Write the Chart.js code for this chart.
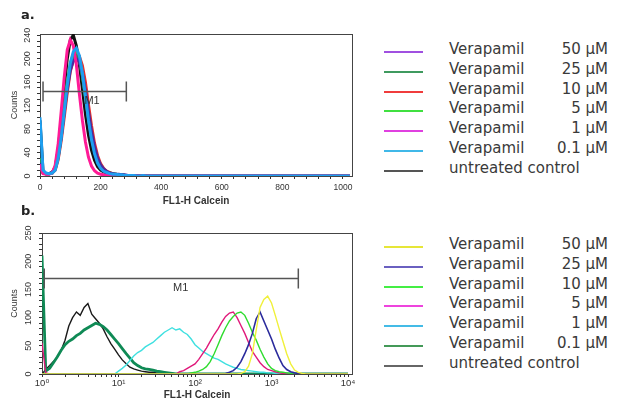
<!DOCTYPE html>
<html>
<head>
<meta charset="utf-8">
<script src="https://cdn.jsdelivr.net/npm/chart.js@4.4.0/dist/chart.umd.min.js"></script>
<style>
  body { margin: 0; background: #fff; font-family: "DejaVu Sans", Verdana, sans-serif; }
  #wrap { position: relative; width: 622px; height: 404px; overflow: hidden; }
  canvas { position: absolute; left: 0; }
  .panel { position: absolute; left: 21px; font: bold 13px "DejaVu Sans", Arial, sans-serif; color: #222; }
  .legend { position: absolute; left: 384px; width: 224px; }
  .row { position: absolute; left: 0; width: 224px; height: 20px; font-size: 15px; line-height: 18px; color: #3a3a3a; }
  .row .ln { position: absolute; left: 0; top: 11px; width: 39px; height: 2px; }
  .row .name { position: absolute; left: 65px; top: 0; }
  .row .conc { position: absolute; right: 0; top: 0; }
</style>
</head>
<body>
<div id="wrap">
  <canvas id="chartA" width="360" height="210" style="top:0"></canvas>
  <canvas id="chartB" width="360" height="204" style="top:200px"></canvas>
  <div class="panel" style="top:7px">a.</div>
  <div class="panel" style="top:203px">b.</div>
  <div class="legend" id="legendA" style="top:40px"></div>
  <div class="legend" id="legendB" style="top:235px"></div>
</div>
<script>
// series labels (same order in both panels)
const names = ["Verapamil", "Verapamil", "Verapamil", "Verapamil", "Verapamil", "Verapamil", "untreated control"];
const concs = ["50 µM", "25 µM", "10 µM", "5 µM", "1 µM", "0.1 µM", ""];

// ---- panel a : linear FL1-H channel ----
const xA = [0, 10, 20, 30, 40, 50, 60, 70, 80, 90, 100, 110, 120, 130, 140, 150, 160, 170, 180, 190,
            200, 210, 220, 230, 240, 250, 260, 270, 280, 290, 300, 310, 320, 330, 340, 350, 1023];
const a50  = [22, 5, 4, 4, 6, 12, 33, 66, 108, 148, 180, 196, 200, 195, 175, 145, 110, 76, 50, 31,
              19, 12, 8, 5, 4, 3, 3, 2, 2, 1, 1, 1, 1, 0, 0, 0, 0];
const a25  = [28, 6, 4, 4, 5, 11, 32, 68, 112, 152, 185, 202, 205, 196, 170, 136, 100, 68, 44, 27,
              17, 11, 7, 5, 4, 3, 2, 2, 1, 1, 1, 0, 0, 0, 0, 0, 0];
const a10  = [25, 6, 4, 4, 5, 10, 28, 60, 100, 142, 178, 198, 205, 204, 188, 160, 122, 86, 56, 35,
              21, 13, 8, 6, 4, 3, 2, 2, 1, 1, 1, 1, 0, 0, 0, 0, 0];
const a5   = [30, 6, 4, 4, 5, 12, 35, 72, 118, 160, 192, 208, 212, 200, 172, 135, 98, 66, 42, 26,
              16, 10, 7, 5, 4, 3, 2, 2, 1, 1, 1, 0, 0, 0, 0, 0, 0];
const a1   = [20, 4, 3, 3, 5, 18, 55, 110, 168, 215, 232, 222, 190, 140, 95, 58, 32, 17, 9, 5,
              3, 2, 1, 1, 1, 0, 0, 0, 0, 0, 0, 0, 0, 0, 0, 0, 0];
const a01  = [100, 10, 5, 4, 5, 10, 30, 65, 110, 155, 192, 212, 218, 205, 175, 135, 95, 62, 38, 22,
              13, 8, 6, 4, 3, 3, 2, 2, 1, 1, 1, 1, 0, 0, 1, 0, 0];
const aCtl = [95, 8, 4, 4, 6, 15, 45, 95, 150, 200, 232, 240, 222, 190, 148, 105, 70, 44, 27, 16,
              10, 7, 5, 4, 3, 2, 2, 1, 1, 1, 1, 0, 0, 0, 0, 0, 0];
const seriesA = [a50, a25, a10, a5, a1, a01, aCtl];
const xTicksA = [0, 200, 400, 600, 800, 1000];
const yTicksA = [0, 40, 80, 120, 160, 200, 240];
const gateA = [10, 285], gateLevelA = 145, gateLabelA = 172;

// ---- panel b : log FL1-H ----
const xB = [1, 1.12, 1.26, 1.41, 1.58, 1.78, 2, 2.24, 2.51, 2.82, 3.16, 3.55, 3.98, 4.47, 5.01, 5.62, 6.31, 7.08, 7.94, 8.91,
            10, 11.2, 12.6, 14.1, 15.8, 17.8, 20, 22.4, 25.1, 28.2, 31.6, 35.5, 39.8, 44.7, 50.1, 56.2, 63.1, 70.8, 79.4, 89.1,
            100, 112, 126, 141, 158, 178, 200, 224, 251, 282, 316, 355, 398, 447, 501, 562, 631, 708, 794, 891,
            1000, 1120, 1260, 1410, 1580, 1780, 2000, 2240, 2510, 2820, 3160, 3550, 3980, 4470, 5010, 5620, 6310, 7080, 7940, 8910,
            10000];
const b50  = [0, 0, 0, 0, 0, 0, 0, 0, 0, 0, 0, 0, 0, 0, 0, 0, 0, 0, 0, 0,
              0, 0, 0, 0, 0, 0, 0, 0, 0, 0, 0, 0, 0, 0, 0, 0, 0, 0, 0, 0,
              0, 0, 0, 0, 0, 0, 0, 0, 0, 0, 0, 0, 1, 4, 14, 36, 78, 118, 132, 138,
              126, 104, 80, 58, 36, 18, 7, 3, 1, 0, 0, 0, 0, 0, 0, 0, 0, 0, 0, 0,
              0];
const b25  = [0, 0, 0, 0, 0, 0, 0, 0, 0, 0, 0, 0, 0, 0, 0, 0, 0, 0, 0, 0,
              0, 0, 0, 0, 0, 0, 0, 0, 0, 0, 0, 0, 0, 0, 0, 0, 0, 0, 0, 0,
              0, 0, 0, 0, 0, 0, 0, 0, 1, 3, 6, 12, 22, 36, 52, 72, 98, 110, 94, 78,
              62, 44, 28, 15, 8, 4, 2, 1, 0, 0, 0, 0, 0, 0, 0, 0, 0, 0, 0, 0,
              0];
const b10  = [0, 0, 0, 0, 0, 0, 0, 0, 0, 0, 0, 0, 0, 0, 0, 0, 0, 0, 0, 0,
              0, 0, 0, 0, 0, 0, 0, 0, 0, 0, 0, 0, 0, 0, 0, 0, 0, 0, 0, 2,
              3, 5, 8, 13, 22, 36, 52, 68, 82, 94, 102, 108, 110, 104, 90, 74, 60, 44, 30, 18,
              10, 6, 4, 3, 2, 1, 0, 0, 0, 0, 0, 0, 0, 0, 0, 0, 0, 0, 0, 0,
              0];
const b5   = [55, 2, 0, 0, 0, 0, 0, 0, 0, 0, 0, 0, 0, 0, 0, 0, 0, 0, 0, 0,
              0, 0, 0, 0, 0, 0, 0, 0, 0, 0, 0, 0, 0, 0, 0, 0, 4, 6, 10, 14,
              18, 26, 36, 46, 58, 70, 80, 92, 102, 108, 110, 100, 86, 72, 56, 40, 30, 20, 13, 8,
              6, 4, 2, 1, 0, 0, 0, 0, 0, 0, 0, 0, 0, 0, 0, 0, 0, 0, 0, 0,
              0];
const b1   = [0, 0, 0, 0, 0, 0, 0, 0, 0, 0, 0, 0, 0, 0, 0, 0, 0, 0, 0, 0,
              5, 10, 16, 24, 32, 38, 42, 48, 52, 56, 62, 68, 74, 78, 82, 78, 80, 74, 70, 62,
              52, 46, 40, 36, 32, 28, 26, 22, 18, 15, 12, 10, 8, 7, 6, 5, 4, 3, 3, 2,
              2, 1, 1, 0, 0, 0, 0, 0, 0, 0, 0, 0, 0, 0, 0, 0, 0, 0, 0, 0,
              0];
const b01  = [210, 5, 10, 20, 30, 42, 52, 58, 62, 68, 72, 78, 82, 86, 90, 88, 84, 78, 70, 62,
              54, 45, 36, 28, 20, 15, 11, 9, 8, 7, 5, 4, 3, 2, 1, 0, 0, 0, 0, 0,
              0, 0, 0, 0, 0, 0, 0, 0, 0, 0, 0, 0, 0, 0, 0, 0, 0, 0, 0, 0,
              0, 0, 0, 0, 0, 0, 0, 0, 0, 0, 0, 0, 0, 0, 0, 0, 0, 0, 0, 0,
              0];
const bCtl = [0, 8, 15, 22, 30, 42, 60, 85, 100, 110, 104, 118, 125, 106, 98, 90, 80, 66, 54, 44,
              34, 25, 18, 12, 9, 7, 5, 4, 3, 3, 2, 2, 1, 1, 1, 0, 0, 0, 0, 0,
              0, 0, 0, 0, 0, 0, 0, 0, 0, 0, 0, 0, 0, 0, 0, 0, 0, 0, 0, 0,
              0, 0, 0, 0, 0, 0, 0, 0, 0, 0, 0, 0, 0, 0, 0, 0, 0, 0, 0, 0,
              0];
const seriesB = [b50, b25, b10, b5, b1, b01, bCtl];
const decadesB = [1, 10, 100, 1000, 10000];
const decadeLabelsB = ["10⁰", "10¹", "10²", "10³", "10⁴"];
const yTicksB = [0, 50, 100, 150, 200, 250];
const gateB = [1.07, 2240], gateLevelB = 170, gateLabelB = 65;

// colours
const lineColorsA = ["#4b2aa0", "#2e8b57", "#e8302a", "#3cc83c", "#ff1a96", "#1e9ff0", "#111111"];
const legendColorsA = ["#a050e0", "#3f9a5f", "#f03c3c", "#40e040", "#e040e0", "#40b8e8", "#555555"];
const lineColorsB = ["#f0f03a", "#2b2b9c", "#2fdc2f", "#e0187a", "#3fe0e0", "#0f8a55", "#1a1a1a"];
const legendColorsB = ["#e6e638", "#6a60c0", "#44ee44", "#ee44dd", "#44bbe6", "#449958", "#666666"];

const axisColor = "#333";
const fontFamily = "'Liberation Sans', 'DejaVu Sans', Arial";
const tickFont = { family: fontFamily, size: 8.5 };
const titleFont = { family: fontFamily, size: 10, weight: "bold" };

const framePlugin = {
    id: "frame",
    beforeDatasetsDraw(chart) {
        const { ctx, chartArea: a } = chart;
        ctx.save();
        ctx.strokeStyle = "#444";
        ctx.lineWidth = 1;
        ctx.strokeRect(Math.round(a.left) + 0.5, Math.round(a.top) + 0.5,
                       Math.round(a.right - a.left), Math.round(a.bottom - a.top));
        ctx.restore();
    }
};

const gatePlugin = {
    id: "gate",
    afterDatasetsDraw(chart, args, opts) {
        const { ctx, scales: { x, y } } = chart;
        const x1 = x.getPixelForValue(opts.from);
        const x2 = x.getPixelForValue(opts.to);
        const yy = Math.round(y.getPixelForValue(opts.level)) + 0.5;
        ctx.save();
        ctx.strokeStyle = "#555";
        ctx.lineWidth = 1.5;
        ctx.beginPath();
        ctx.moveTo(x1, yy); ctx.lineTo(x2, yy);
        ctx.moveTo(x1, yy - 10); ctx.lineTo(x1, yy + 10);
        ctx.moveTo(x2, yy - 10); ctx.lineTo(x2, yy + 10);
        ctx.stroke();
        ctx.fillStyle = "#333";
        ctx.font = "11px " + fontFamily;
        ctx.textAlign = "center";
        ctx.textBaseline = "middle";
        ctx.fillText(opts.text, x.getPixelForValue(opts.labelAt), yy + 9);
        ctx.restore();
    }
};

function makeDatasets(xs, series, colors, widths, orders) {
    return series.map((vals, i) => ({
        label: names[i] + " " + concs[i],
        data: xs.map((x, j) => ({ x: x, y: vals[j] })),
        borderColor: colors[i],
        borderWidth: widths[i],
        order: orders[i],
        pointRadius: 0,
        tension: 0,
        fill: false
    }));
}

function yAxis(max, step, labels, width, pad) {
    return {
        type: "linear", min: 0, max: max,
        afterBuildTicks: s => {
            const t = [];
            for (let v = 0; v <= labels[labels.length - 1]; v += step) t.push({ value: v });
            s.ticks = t;
        },
        afterFit: s => { s.width = width; },
        ticks: {
            autoSkip: false, minRotation: 90, maxRotation: 90, crossAlign: "center",
            padding: pad, color: axisColor, font: { family: fontFamily, size: 9 },
            callback: v => labels.includes(v) ? String(v) : ""
        },
        grid: { drawOnChartArea: false, tickLength: 3, color: axisColor },
        border: { color: axisColor },
        title: { display: true, text: "Counts", color: axisColor, font: { family: fontFamily, size: 9 }, padding: { top: 9 } }
    };
}

// panel a
new Chart(document.getElementById("chartA"), {
    type: "line",
    data: { datasets: makeDatasets(xA, seriesA, lineColorsA, [3, 3, 3, 3, 3, 3, 3], [2, 3, 4, 5, 1, 0, 6]) },
    options: {
        responsive: false, animation: false, devicePixelRatio: 1,
        layout: { padding: { top: 34, right: 8, left: 0, bottom: 0 } },
        plugins: {
            legend: { display: false }, tooltip: { enabled: false },
            gate: { from: gateA[0], to: gateA[1], level: gateLevelA, labelAt: gateLabelA, text: "M1" }
        },
        scales: {
            x: {
                type: "linear", min: 0, max: 1030,
                afterBuildTicks: s => {
                    const t = [];
                    for (let v = 0; v <= 1000; v += 40) t.push({ value: v });
                    s.ticks = t;
                },
                afterFit: s => { s.height = 34; },
                ticks: {
                    autoSkip: false, maxRotation: 0, padding: 4, color: axisColor, font: tickFont,
                    callback: v => xTicksA.includes(v) ? String(v) : ""
                },
                grid: { drawOnChartArea: false, tickLength: 3, color: axisColor },
                border: { color: axisColor },
                title: { display: true, text: "FL1-H Calcein", color: axisColor, font: titleFont, padding: { bottom: 3 } }
            },
            y: yAxis(242, 10, yTicksA, 40, 2)
        }
    },
    plugins: [framePlugin, gatePlugin]
});

// panel b
new Chart(document.getElementById("chartB"), {
    type: "line",
    data: { datasets: makeDatasets(xB, seriesB, lineColorsB, [1.4, 1.6, 1.4, 1.4, 1.4, 2.8, 1.4], [0, 1, 2, 3, 4, 5, 6]) },
    options: {
        responsive: false, animation: false, devicePixelRatio: 1,
        layout: { padding: { top: 33, right: 8, left: 0, bottom: 0 } },
        plugins: {
            legend: { display: false }, tooltip: { enabled: false },
            gate: { from: gateB[0], to: gateB[1], level: gateLevelB, labelAt: gateLabelB, text: "M1" }
        },
        scales: {
            x: {
                type: "logarithmic", min: 1, max: 11270,
                afterBuildTicks: s => {
                    const t = [];
                    for (const d of decadesB.slice(0, -1)) {
                        for (let m = 1; m < 10; m++) t.push({ value: d * m });
                    }
                    t.push({ value: decadesB[decadesB.length - 1] });
                    s.ticks = t;
                },
                afterFit: s => { s.height = 30; },
                ticks: {
                    autoSkip: false, maxRotation: 0, padding: 1, color: axisColor,
                    font: { family: fontFamily, size: 9.5 },
                    callback: v => {
                        const k = decadesB.indexOf(v);
                        return k >= 0 ? decadeLabelsB[k] : "";
                    }
                },
                grid: { drawOnChartArea: false, tickLength: 3, color: axisColor },
                border: { color: axisColor },
                title: { display: true, text: "FL1-H Calcein", color: axisColor, font: titleFont, padding: { bottom: 3 } }
            },
            y: yAxis(250, 10, yTicksB, 42, 3)
        }
    },
    plugins: [framePlugin, gatePlugin]
});

// legends
function buildLegend(id, colors) {
    const box = document.getElementById(id);
    names.forEach((n, i) => {
        const row = document.createElement("div");
        row.className = "row";
        row.style.top = (i * 19.8) + "px";
        row.innerHTML = '<div class="ln" style="background:' + colors[i] + '"></div>' +
                        '<span class="name">' + n + '</span>' +
                        '<span class="conc">' + concs[i] + '</span>';
        box.appendChild(row);
    });
}
buildLegend("legendA", legendColorsA);
buildLegend("legendB", legendColorsB);
</script>
</body>
</html>
